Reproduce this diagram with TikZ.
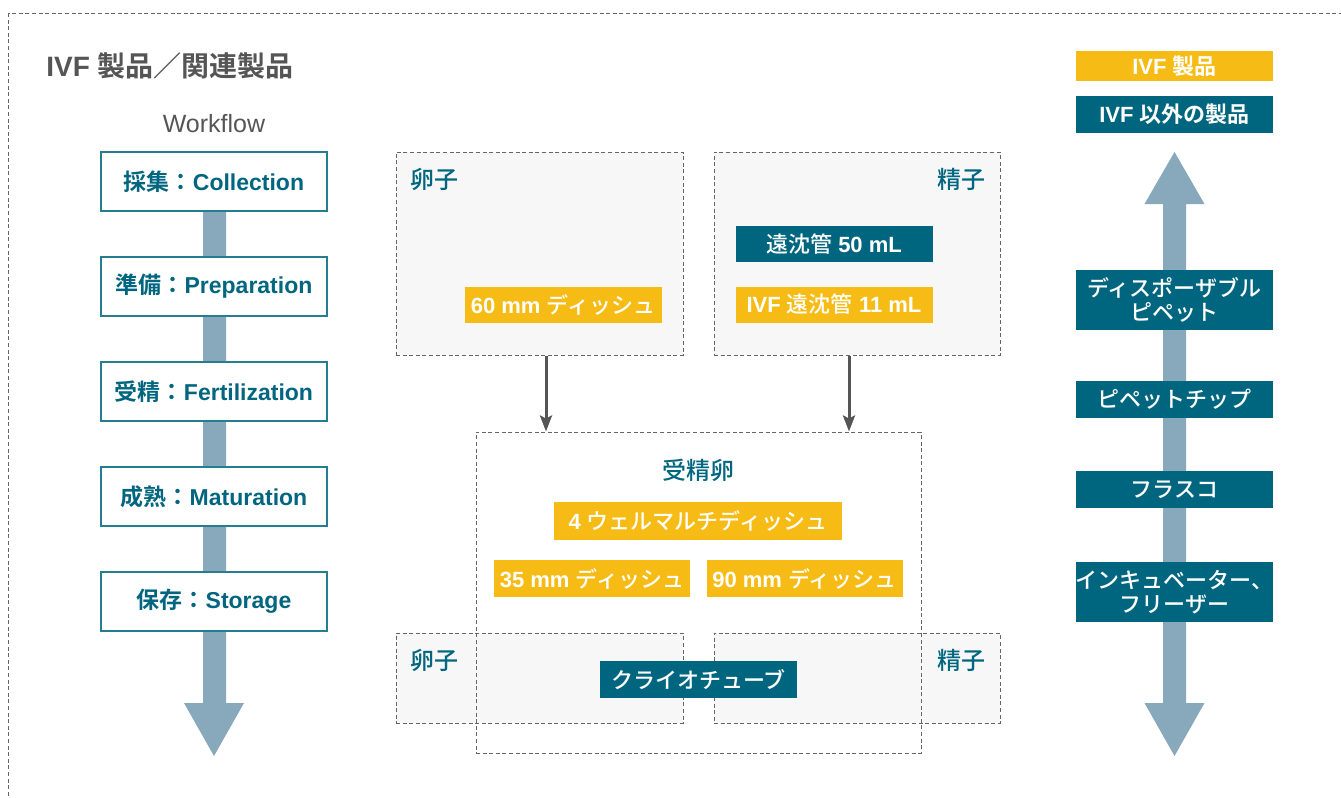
\documentclass[tikz,border=0pt]{standalone}
\usepackage{fontspec}
\setmainfont{Liberation Sans}
\newfontfamily\jpfont{Noto Sans CJK JP}[BoldFont=* Bold]
\newfontfamily\jpmedfont{Noto Sans CJK JP Medium}
\newcommand{\ja}[1]{{\jpfont #1}}
\newcommand{\jm}[1]{{\mdseries\jpmedfont #1}}
\usetikzlibrary{arrows.meta}
\definecolor{ivfteal}{HTML}{00667F}
\definecolor{ivfyellow}{HTML}{F6BC15}
\definecolor{ivfgray}{HTML}{555555}
\definecolor{flowblue}{HTML}{88A8BB}
\definecolor{boxfill}{HTML}{F7F7F7}
\definecolor{dashgray}{HTML}{666666}

\begin{document}
\begin{tikzpicture}[x=0.5pt,y=-0.5pt,>={Stealth[length=8pt,width=6pt,inset=1.5pt]},
  stage/.style={draw=ivfteal!85,line width=0.6pt,fill=white,text=ivfteal,font=\bfseries\fontsize{11.5}{14}\selectfont,minimum width=113pt,minimum height=29.5pt,inner sep=0pt},
  ivftag/.style={fill=ivfyellow,text=white,font=\bfseries\fontsize{11}{12}\selectfont,align=center,minimum width=98.5pt,minimum height=18pt,inner sep=0pt},
  othertag/.style={ivftag,fill=ivfteal},
  dashline/.style={draw=dashgray,dash pattern=on 2pt off 1.3pt,line width=0.5pt},
  region/.style={dashline,fill=boxfill,inner sep=0pt},
  regionlabel/.style={text=ivfteal,font=\fontsize{12}{14}\selectfont,inner sep=0pt},
  flow/.style={->,draw=ivfgray,fill=ivfgray,line width=1.5pt}]
  \useasboundingbox (0,0) rectangle (1341,798);

  % Frame and title
  \draw[dashline] (8,13) rectangle (1360,820);
  \node[anchor=west,inner sep=0pt,text=ivfgray,font=\bfseries\fontsize{14}{16}\selectfont] (title) at (46,66) {IVF \ja{製品／関連製品}};

  % Workflow
  \node[text=ivfgray,font=\fontsize{12.5}{14}\selectfont] (workflow) at (214,124) {Workflow};
  \fill[flowblue] (203,181) -- (226,181) -- (226,703) -- (244,703) -- (214,756) -- (184,703) -- (203,703) -- cycle;
  \node[stage] (collect) at (214,181.5) {\ja{採集：}Collection};
  \node[stage] (prepare) at (214,286.5) {\ja{準備：}Preparation};
  \node[stage] (fertil) at (214,391.5) {\ja{受精：}Fertilization};
  \node[stage] (mature) at (214,496.5) {\ja{成熟：}Maturation};
  \node[stage] (store) at (214,601.5) {\ja{保存：}Storage};

  % Egg and sperm
  \node[region,minimum width=143.5pt,minimum height=101.5pt] (egg) at (539.5,253.5) {};
  \node[regionlabel,anchor=west] (egglabel) at ([xshift=7.5pt,yshift=-14pt]egg.north west) {\jm{卵子}};
  \node[ivftag] (dish60) at (563,304.5) {60 mm \jm{ディッシュ}};

  \node[region,minimum width=143pt,minimum height=101.5pt] (sperm) at (857,253.5) {};
  \node[regionlabel,anchor=east] (spermlabel) at ([xshift=-7.5pt,yshift=-14pt]sperm.north east) {\jm{精子}};
  \node[othertag] (tube50) at (834,244) {\jm{遠沈管} 50 mL};
  \node[ivftag] (tube11) at (834,304.5) {IVF \jm{遠沈管} 11 mL};

  % Fertilized egg
  \node[region,minimum width=143.5pt,minimum height=45pt] (egglow) at (539.5,678) {};
  \node[regionlabel,anchor=west] (egglowlabel) at ([xshift=7.5pt,yshift=-14pt]egglow.north west) {\jm{卵子}};
  \node[region,minimum width=143pt,minimum height=45pt] (spermlow) at (857,678) {};
  \node[regionlabel,anchor=east] (spermlowlabel) at ([xshift=-7.5pt,yshift=-14pt]spermlow.north east) {\jm{精子}};
  \node[dashline,inner sep=0pt,minimum width=222.5pt,minimum height=160.5pt] (fert) at (698.5,592.5) {};
  \node[regionlabel] (fertlabel) at (698,470) {\jm{受精卵}};
  \node[ivftag,minimum width=144pt,minimum height=19pt] (multi4) at (698,521) {4 \jm{ウェルマルチディッシュ}};
  \node[ivftag,minimum width=98pt,minimum height=18.5pt] (dish35) at (592,578.5) {35 mm \jm{ディッシュ}};
  \node[ivftag,minimum width=98pt,minimum height=18.5pt] (dish90) at (804.5,578.5) {90 mm \jm{ディッシュ}};
  \node[othertag,minimum height=18.5pt] (cryo) at (698.5,679.5) {\jm{クライオチューブ}};

  \draw[flow] ([xshift=3.25pt]egg.south) -- ([xshift=3.25pt]egg.south |- fert.north);
  \draw[flow] ([xshift=-4pt]sperm.south) -- ([xshift=-4pt]sperm.south |- fert.north);

  % Legend and other products
  \node[ivftag,minimum height=15pt] (legivf) at (1174.5,66) {IVF \ja{\bfseries 製品}};
  \node[othertag,minimum height=18.5pt] (legother) at (1174.5,114.5) {IVF \ja{\bfseries 以外の製品}};
  \fill[flowblue] (1174.5,152) -- (1204.5,204) -- (1186,204) -- (1186,703) -- (1204.5,703) -- (1174.5,756)
    -- (1144.5,703) -- (1163,703) -- (1163,204) -- (1144.5,204) -- cycle;
  \node[othertag,minimum height=30pt] (pipette) at (1174.5,300) {\jm{ディスポーザブル}\\\jm{ピペット}};
  \node[othertag,minimum height=18.5pt] (piptip) at (1174.5,399.5) {\jm{ピペットチップ}};
  \node[othertag,minimum height=18.5pt] (flask) at (1174.5,489.5) {\jm{フラスコ}};
  \node[othertag,minimum height=30pt] (incub) at (1174.5,592) {\jm{インキュベーター、}\\\jm{フリーザー}};
\end{tikzpicture}
\end{document}
